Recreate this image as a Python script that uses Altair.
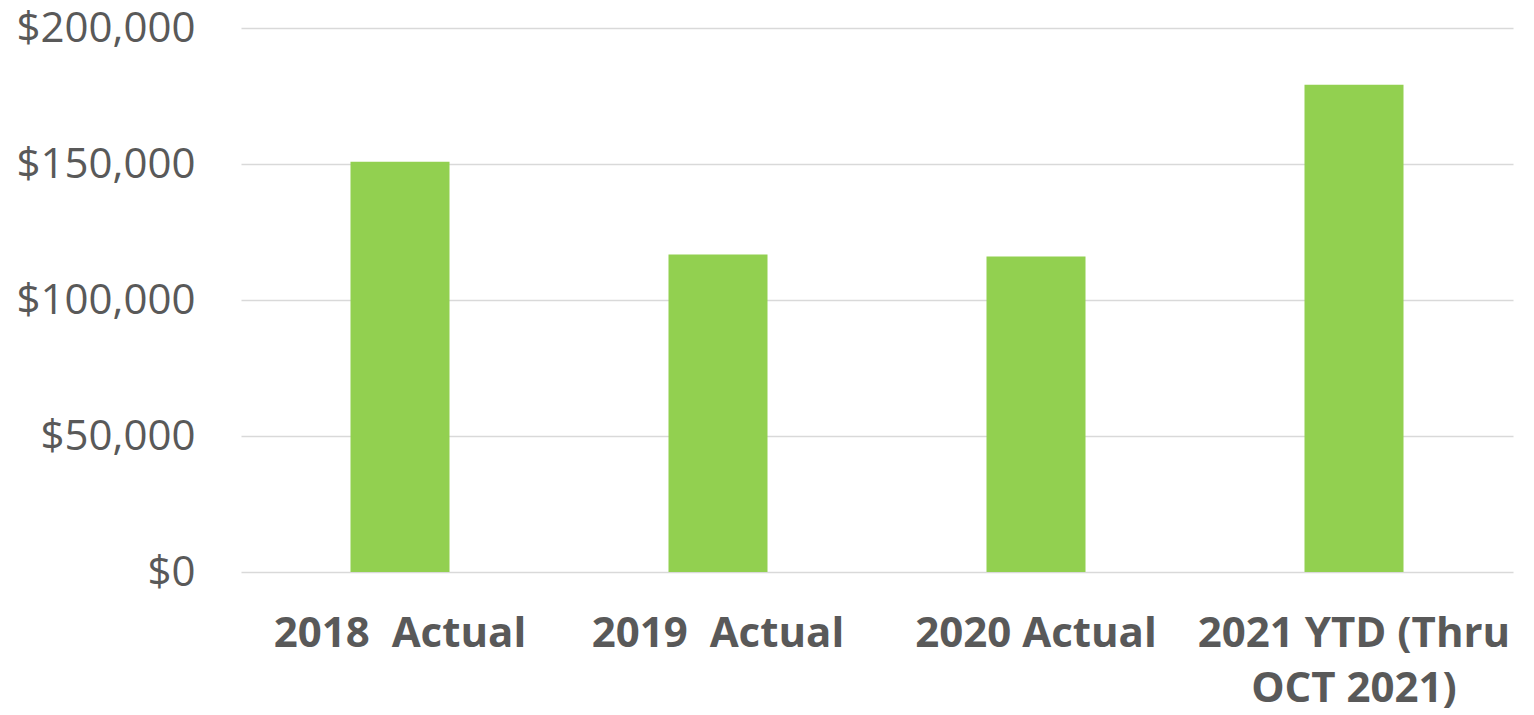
import altair as alt
import pandas as pd

categories = ["2018\u00a0\u00a0Actual", "2019\u00a0\u00a0Actual", "2020 Actual", "2021 YTD (Thru|OCT 2021)"]
values = [150800, 116700, 116000, 179100]

df = pd.DataFrame({"cat": categories, "val": values})

chart = alt.Chart(df).mark_bar(color="#92D050", size=99).encode(
    x=alt.X("cat:N", sort=categories, title=None,
            scale=alt.Scale(paddingInner=0, paddingOuter=0),
            axis=alt.Axis(labelAngle=0, domain=False, ticks=False,
                          labelExpr="split(datum.label, '|')",
                          labelFont="Open Sans", labelFontWeight="bold",
                          labelFontSize=42, labelColor="#595959",
                          labelPadding=41, labelLineHeight=55,
                          labelLimit=0)),
    y=alt.Y("val:Q", title=None,
            scale=alt.Scale(domain=[0, 200000], nice=False),
            axis=alt.Axis(values=[0, 50000, 100000, 150000, 200000],
                          format="$,.0f", domain=False, ticks=False,
                          labelFont="Open Sans", labelFontSize=42,
                          labelColor="#595959", labelPadding=46,
                          gridColor="#D9D9D9", gridWidth=1.5)),
).properties(
    width=1272, height=544,
    autosize=alt.AutoSizeParams(type="none"),
    padding={"left": 233, "top": 20, "right": 5, "bottom": 140},
).configure_view(stroke=None)

chart.save("out.html", embed_options={"renderer": "svg", "actions": False})
